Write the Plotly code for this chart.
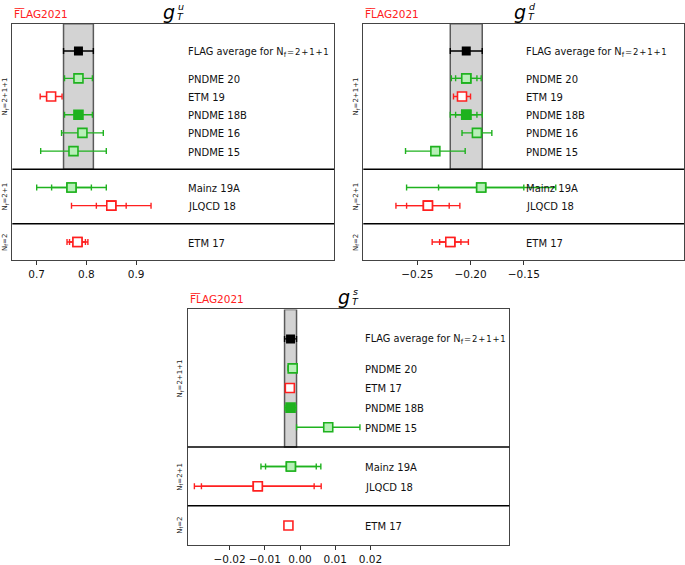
import plotly.graph_objects as go

# ---- data ----
group_names = ["N<sub>f</sub>=2+1+1", "N<sub>f</sub>=2+1", "N<sub>f</sub>=2"]

# g_T^u
u_labels = ["PNDME 20", "ETM 19", "PNDME 18B", "PNDME 16", "PNDME 15", "Mainz 19A", "JLQCD 18", "ETM 17"]
u_groups = [0, 0, 0, 0, 0, 1, 1, 2]
u_values = [0.784, 0.729, 0.784, 0.792, 0.774, 0.770, 0.850, 0.782]
u_stat = [None, None, None, None, None, 0.040, 0.030, 0.016]
u_total = [0.028, 0.022, 0.028, 0.042, 0.066, 0.070, 0.080, 0.021]
u_avg, u_avg_err = 0.784, 0.030
u_ticks = [0.7, 0.8, 0.9]
u_ticktext = ["0.7", "0.8", "0.9"]

# g_T^d
d_labels = ["PNDME 20", "ETM 19", "PNDME 18B", "PNDME 16", "PNDME 15", "Mainz 19A", "JLQCD 18", "ETM 17"]
d_groups = [0, 0, 0, 0, 0, 1, 1, 2]
d_values = [-0.204, -0.208, -0.204, -0.194, -0.233, -0.190, -0.240, -0.219]
d_stat = [0.010, None, 0.010, None, None, 0.040, 0.020, 0.010]
d_total = [0.014, 0.008, 0.015, 0.014, 0.028, 0.070, 0.030, 0.017]
d_avg, d_avg_err = -0.204, 0.015
d_ticks = [-0.25, -0.20, -0.15]
d_ticktext = ["\u22120.25", "\u22120.20", "\u22120.15"]

# g_T^s
s_labels = ["PNDME 20", "ETM 17", "PNDME 18B", "PNDME 15", "Mainz 19A", "JLQCD 18", "ETM 17"]
s_groups = [0, 0, 0, 0, 1, 1, 2]
s_values = [-0.0021, -0.0029, -0.0027, 0.0080, -0.0026, -0.0120, -0.0033]
s_stat = [None, None, None, None, 0.0072, 0.0160, None]
s_total = [0.0013, 0.0003, 0.0016, 0.0090, 0.0085, 0.0180, 0.0003]
s_avg, s_avg_err = -0.0027, 0.0017
s_ticks = [-0.02, -0.01, 0.0, 0.01, 0.02]
s_ticktext = ["\u22120.02", "\u22120.01", "0.00", "0.01", "0.02"]

# ---- styles ----
GREEN = "#1fb21f"
GREEN_LIGHT = "#b8efb8"
RED = "#ff2020"
FONT = "DejaVu Sans"
style = {
    "PNDME 20": (GREEN, GREEN_LIGHT),
    "PNDME 18B": (GREEN, GREEN),
    "PNDME 16": (GREEN, GREEN_LIGHT),
    "PNDME 15": (GREEN, GREEN_LIGHT),
    "Mainz 19A": (GREEN, GREEN_LIGHT),
    "ETM 19": (RED, "white"),
    "ETM 17": (RED, "white"),
    "JLQCD 18": (RED, "white"),
}

panels = [
    dict(labels=u_labels, groups=u_groups, values=u_values, stat=u_stat, total=u_total,
         avg=u_avg, avg_err=u_avg_err, ticks=u_ticks, ticktext=u_ticktext,
         xrange=[0.651, 1.298], label_x=1.0, sup="u",
         dom_x=[0.018, 0.4876], dom_y=[0.5345, 0.9575]),
    dict(labels=d_labels, groups=d_groups, values=d_values, stat=d_stat, total=d_total,
         avg=d_avg, avg_err=d_avg_err, ticks=d_ticks, ticktext=d_ticktext,
         xrange=[-0.3006, 0.0003], label_x=-0.15, sup="d",
         dom_x=[0.5304, 0.9985], dom_y=[0.5345, 0.9575]),
    dict(labels=s_labels, groups=s_groups, values=s_values, stat=s_stat, total=s_total,
         avg=s_avg, avg_err=s_avg_err, ticks=s_ticks, ticktext=s_ticktext,
         xrange=[-0.0319, 0.0594], label_x=0.018, sup="s",
         dom_x=[0.274, 0.7435], dom_y=[0.0248, 0.4465]),
]

fig = go.Figure()
shapes = []
annotations = []

for i, p in enumerate(panels):
    n = i + 1
    xa = "x" if n == 1 else f"x{n}"
    ya = "y" if n == 1 else f"y{n}"
    xd = f"{xa} domain"
    yd = f"{ya} domain"

    # y positions: groups stacked from the bottom (Nf=2 lowest), one unit per entry,
    # one empty unit between groups
    ypos = [0] * len(p["labels"])
    sections = []
    cursor = 0
    dividers = []
    for g in [2, 1, 0]:
        idx = [k for k, gg in enumerate(p["groups"]) if gg == g]
        start = cursor + 1
        for j, k in enumerate(reversed(idx)):
            ypos[k] = start + j
        sec_lo = cursor
        cursor = start + len(idx)
        if g != 0:
            dividers.append(cursor)
        sections.append([g, sec_lo, cursor])
    avg_y = cursor + 0.5
    top = cursor + 2
    sections[-1][2] = top

    # error bars (total, then stat on top) + markers
    for k, lab in enumerate(p["labels"]):
        line_c, fill_c = style[lab]
        errs = [p["total"][k]] + ([p["stat"][k]] if p["stat"][k] is not None else [])
        for e in errs:
            fig.add_trace(go.Scatter(
                x=[p["values"][k]], y=[ypos[k]], mode="markers",
                marker=dict(symbol="square", size=9, color=fill_c,
                            line=dict(color=line_c, width=1.6)),
                error_x=dict(type="data", array=[e], color=line_c,
                             thickness=1.4, width=3),
                xaxis=xa, yaxis=ya, showlegend=False, hoverinfo="skip"))
        annotations.append(dict(
            x=p["label_x"], y=ypos[k], xref=xa, yref=ya, text=lab,
            showarrow=False, xanchor="left", yanchor="middle", yshift=-1,
            font=dict(family=FONT, size=10, color="#111")))

    # FLAG average
    fig.add_trace(go.Scatter(
        x=[p["avg"]], y=[avg_y], mode="markers",
        marker=dict(symbol="square", size=9, color="black"),
        error_x=dict(type="data", array=[p["avg_err"]], color="black",
                     thickness=1.4, width=3),
        xaxis=xa, yaxis=ya, showlegend=False, hoverinfo="skip"))
    annotations.append(dict(
        x=p["label_x"], y=avg_y, xref=xa, yref=ya,
        text="FLAG average for N<sub>f</sub>"
             "<span style='font-size:8.5px'>\u200a=\u200a2\u200a+\u200a1\u200a+\u200a1</span>",
        showarrow=False, xanchor="left", yanchor="middle", yshift=-1,
        font=dict(family=FONT, size=9.8, color="#111")))

    # grey band for the average
    shapes.append(dict(type="rect", xref=xa, yref=ya,
                       x0=p["avg"] - p["avg_err"], x1=p["avg"] + p["avg_err"],
                       y0=dividers[-1], y1=top, fillcolor="#d3d3d3",
                       line=dict(color="#5a5a5a", width=1.5), layer="below"))
    for dv in dividers:
        shapes.append(dict(type="line", xref=xd, yref=ya, x0=0, x1=1, y0=dv, y1=dv,
                           line=dict(color="black", width=1.5)))

    # group labels on the left
    for g, lo, hi in sections:
        annotations.append(dict(
            x=-0.023, y=(lo + hi) / 2, xref=xd, yref=ya, text=group_names[g],
            textangle=-90, showarrow=False, xanchor="center", yanchor="middle",
            font=dict(family=FONT, size=7, color="#222")))

    # FLAG logo and title
    annotations.append(dict(
        x=0, y=1, xref=xd, yref=yd, text="F\u0305L\u0305AG2021",
        showarrow=False, xanchor="left", yanchor="bottom", yshift=2,
        font=dict(family=FONT, size=10.5, color=RED)))
    annotations.append(dict(
        x=0.5, y=1, xref=xd, yref=yd, text="<i>g</i>",
        showarrow=False, xanchor="right", yanchor="bottom", xshift=4, yshift=-1,
        font=dict(family=FONT, size=19, color="black")))
    annotations.append(dict(
        x=0.5, y=1, xref=xd, yref=yd, text=f"<i>{p['sup']}</i>",
        showarrow=False, xanchor="left", yanchor="bottom", xshift=3, yshift=10,
        font=dict(family=FONT, size=9.5, color="black")))
    annotations.append(dict(
        x=0.5, y=1, xref=xd, yref=yd, text="<i>T</i>",
        showarrow=False, xanchor="left", yanchor="bottom", xshift=2, yshift=0,
        font=dict(family=FONT, size=9.5, color="black")))

    fig.update_layout(**{
        ("xaxis" if n == 1 else f"xaxis{n}"): dict(
            domain=p["dom_x"], anchor=ya, range=p["xrange"],
            tickvals=p["ticks"], ticktext=p["ticktext"], ticks="outside",
            ticklen=4, tickcolor="#333", showline=True, mirror=True,
            linecolor="#444", linewidth=1.2, showgrid=False, zeroline=False,
            tickfont=dict(family=FONT, size=10.5, color="#111")),
        ("yaxis" if n == 1 else f"yaxis{n}"): dict(
            domain=p["dom_y"], anchor=xa, range=[0, top],
            showticklabels=False, ticks="", showline=True, mirror=True,
            linecolor="#444", linewidth=1.2, showgrid=False, zeroline=False),
    })

fig.update_layout(
    width=685, height=565,
    margin=dict(l=0, r=0, t=0, b=0),
    paper_bgcolor="white", plot_bgcolor="white",
    shapes=shapes, annotations=annotations,
    showlegend=False,
)

fig.write_html("out.html", config={"displayModeBar": False},
               post_script="document.body.style.margin='0';")
